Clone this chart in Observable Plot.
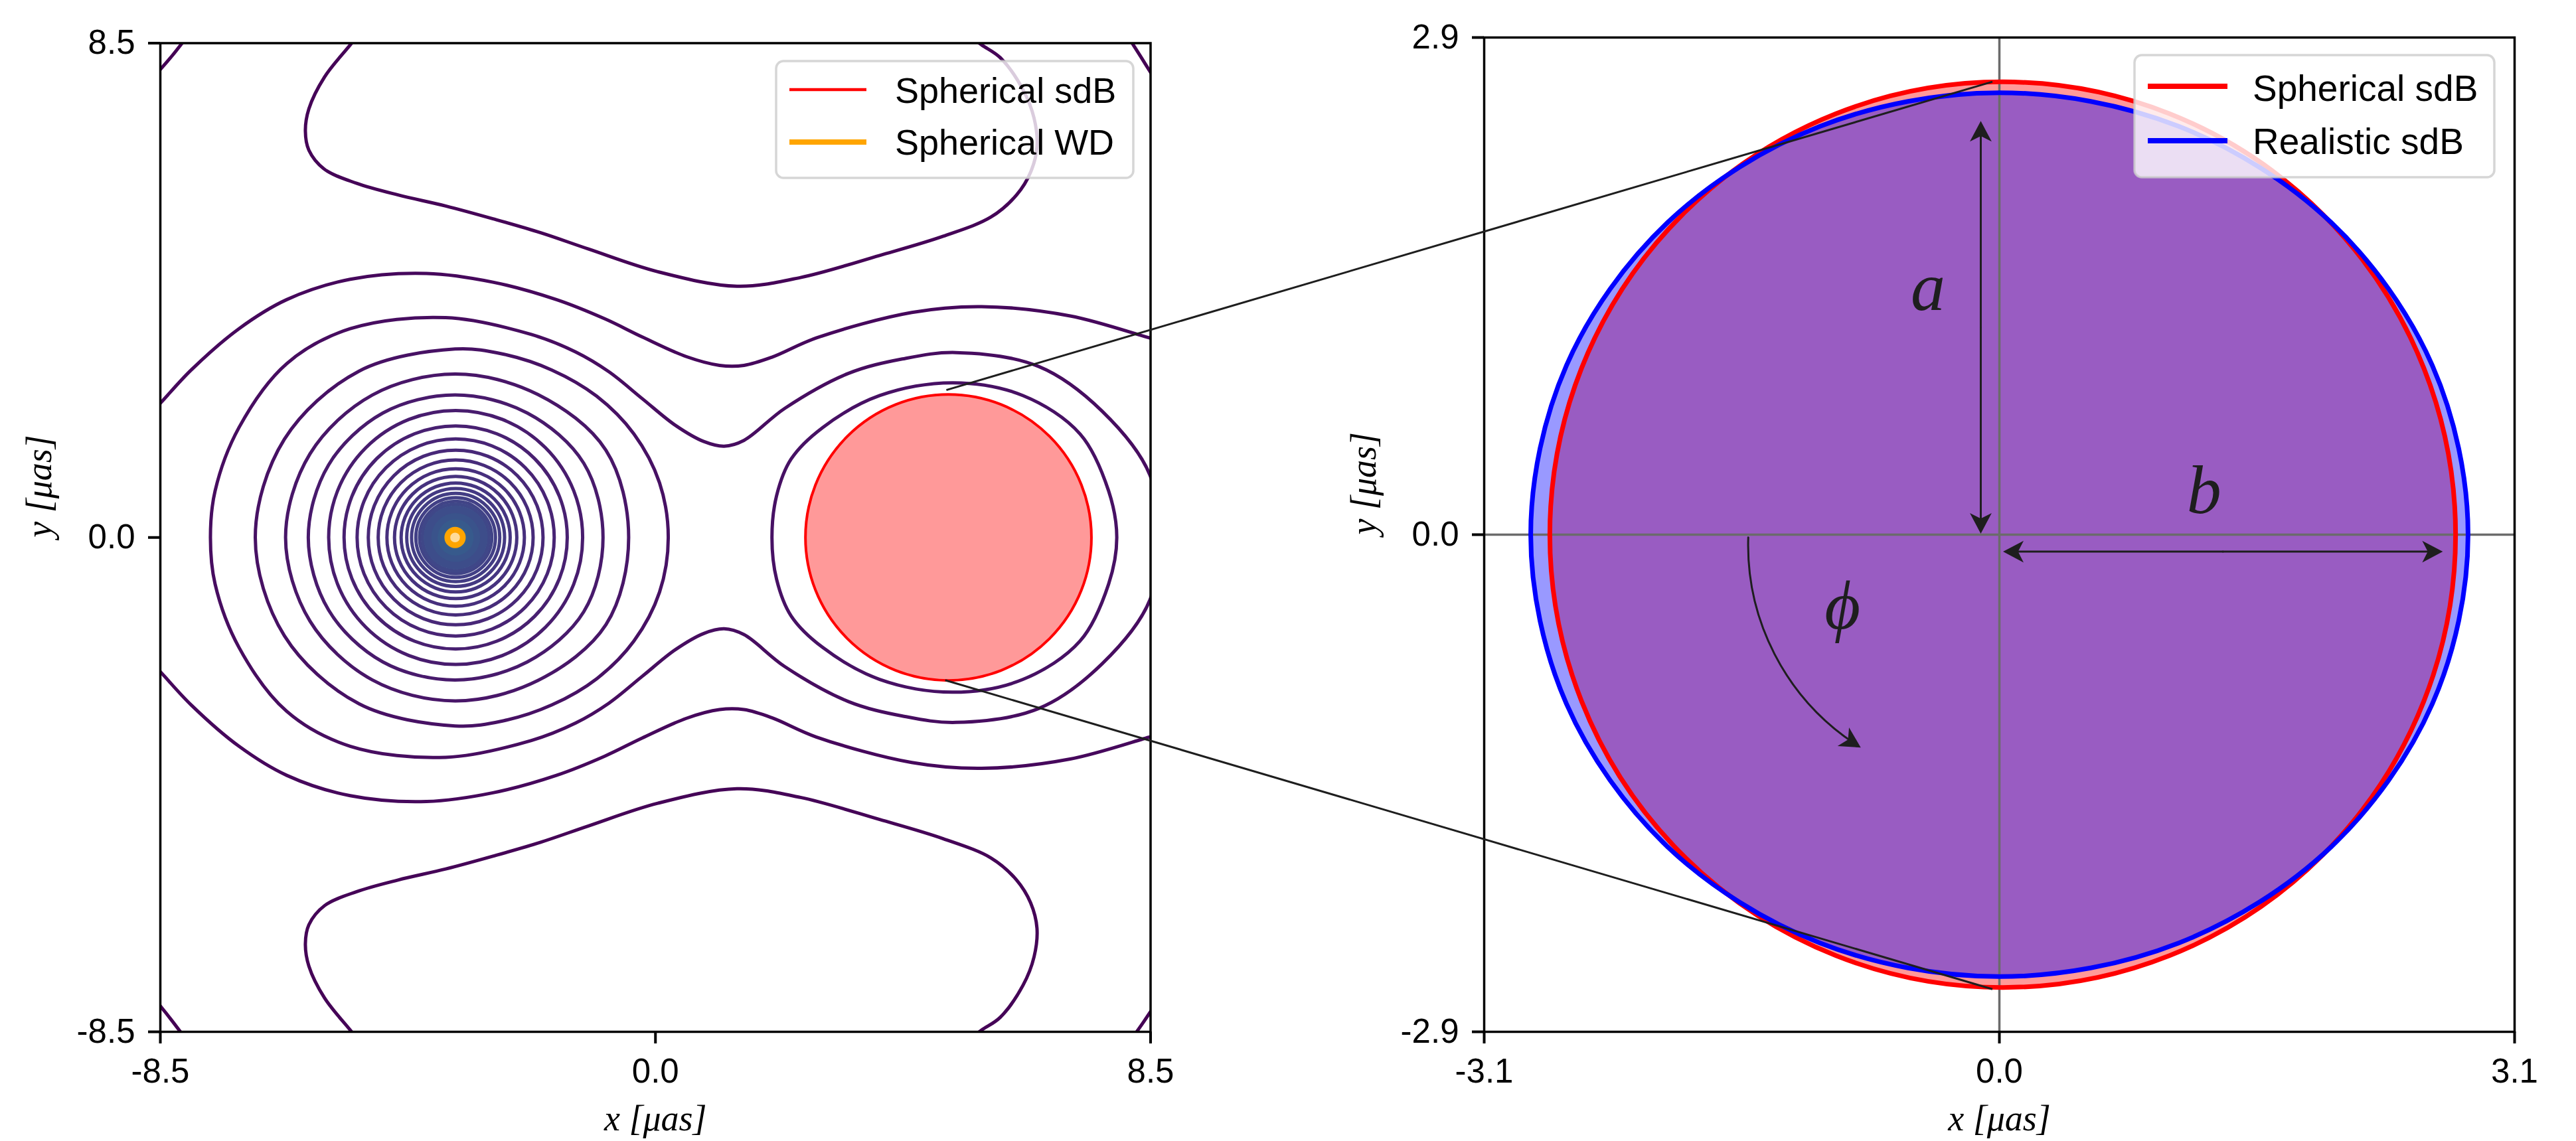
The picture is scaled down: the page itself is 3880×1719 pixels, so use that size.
<!DOCTYPE html>
<html><head><meta charset="utf-8">
<script src="https://cdn.jsdelivr.net/npm/d3@7"></script>
<script src="https://cdn.jsdelivr.net/npm/@observablehq/plot@0.6"></script>
<style>
html,body{margin:0;padding:0;background:#fff;}
#page{position:relative;width:3880px;height:1719px;overflow:hidden;background:#fff;}
#left,#right,#overlay{position:absolute;top:0;}
#left{left:0}
#right{left:1960px}
#overlay{left:0;pointer-events:none}
g[aria-label="x-axis tick"], g[aria-label="y-axis tick"],
g[aria-label="x-axis tick"] path, g[aria-label="y-axis tick"] path,
g[aria-label="x-axis"] .tick line, g[aria-label="y-axis"] .tick line {stroke-width:4px;}
</style></head>
<body><div id="page"><div id="left"></div><div id="right"></div><svg id="overlay" width="3880" height="1719"></svg></div>
<script>
// ================= DATA =================
// ---- left panel: equipotential contours (μas) ----
const leftTicks = [-8.5, 0, 8.5];
const arcTopLeft = [[-8.05, 8.6], [-8.3, 8.28], [-8.56, 7.98]];
const arcTopRight = [[8.12, 8.6], [8.33, 8.27], [8.56, 7.9]];
const arcBottomLeft = [[-8.56, -7.98], [-8.33, -8.27], [-8.08, -8.6]];
const arcBottomRight = [[8.56, -8.06], [8.38, -8.33], [8.19, -8.6]];
const contourBTop = [[-5.08,8.67],[-5.24,8.47],[-5.68,7.92],[-5.95,7.37],[-6.01,6.99],[-5.95,6.66],[-5.68,6.33],[-5.13,6.09],[-4.42,5.89],[-3.60,5.70],[-2.79,5.48],[-1.97,5.24],[-1.15,4.96],[0.04,4.57],[1.40,4.32],[2.49,4.47],[3.85,4.85],[4.94,5.18],[5.76,5.51],[6.20,5.89],[6.44,6.28],[6.55,6.72],[6.50,7.21],[6.31,7.70],[5.92,8.25],[5.60,8.47],[5.40,8.62]];
const contourBBottom = [[-5.08,-8.67],[-5.24,-8.47],[-5.68,-7.92],[-5.95,-7.37],[-6.01,-6.99],[-5.95,-6.66],[-5.68,-6.33],[-5.13,-6.09],[-4.42,-5.89],[-3.60,-5.70],[-2.79,-5.48],[-1.97,-5.24],[-1.15,-4.96],[0.04,-4.57],[1.40,-4.32],[2.49,-4.47],[3.85,-4.85],[4.94,-5.18],[5.76,-5.51],[6.20,-5.89],[6.44,-6.28],[6.55,-6.72],[6.50,-7.21],[6.31,-7.70],[5.92,-8.25],[5.60,-8.47],[5.40,-8.62]];
const contourCTop = [[-8.65,2.15],[-8.48,2.33],[-7.97,2.88],[-7.15,3.59],[-6.33,4.09],[-5.24,4.44],[-3.93,4.54],[-2.79,4.39],[-1.70,4.09],[-0.87,3.76],[-0.23,3.45],[0.53,3.11],[1.10,2.96],[1.52,2.96],[2.0,3.1],[2.76,3.43],[4.40,3.87],[5.60,3.97],[7.12,3.81],[8.49,3.43],[8.65,3.39]];
const contourCBottom = [[-8.65,-2.15],[-8.48,-2.33],[-7.97,-2.88],[-7.15,-3.59],[-6.33,-4.09],[-5.24,-4.44],[-3.93,-4.54],[-2.79,-4.39],[-1.70,-4.09],[-0.87,-3.76],[-0.23,-3.45],[0.53,-3.11],[1.10,-2.96],[1.52,-2.96],[2.0,-3.1],[2.76,-3.43],[4.40,-3.87],[5.60,-3.97],[7.12,-3.81],[8.49,-3.43],[8.65,-3.39]];
const contourD = [[8.62,0],[8.49,1.07],[7.67,2.17],[6.58,2.94],[5.16,3.18],[4.24,3.07],[3.31,2.82],[2.22,2.22],[1.52,1.67],[1.18,1.57],[0.83,1.65],[0.34,1.93],[-0.23,2.39],[-0.80,2.85],[-1.37,3.19],[-2.13,3.49],[-3.60,3.78],[-5.24,3.59],[-6.33,2.99],[-7.15,1.89],[-7.56,0.80],[-7.64,0],[-7.56,-0.80],[-7.15,-1.89],[-6.33,-2.99],[-5.24,-3.59],[-3.60,-3.78],[-2.13,-3.49],[-1.37,-3.19],[-0.80,-2.85],[-0.23,-2.39],[0.34,-1.93],[0.83,-1.65],[1.18,-1.57],[1.52,-1.67],[2.22,-2.22],[3.31,-2.82],[4.24,-3.07],[5.16,-3.18],[6.58,-2.94],[7.67,-2.17],[8.49,-1.07]];
const contourU = [[2.0,0],[2.08,0.72],[2.33,1.35],[2.87,1.89],[3.85,2.44],[5.11,2.66],[6.31,2.44],[7.29,1.78],[7.78,0.80],[7.92,0],[7.78,-0.80],[7.29,-1.78],[6.31,-2.44],[5.11,-2.66],[3.85,-2.44],[2.87,-1.89],[2.33,-1.35],[2.08,-0.72]];
const contourE = [[0.22,0],[0.07,0.94],[-0.37,1.78],[-1.01,2.43],[-1.78,2.88],[-2.60,3.15],[-3.44,3.24],[-5.09,2.86],[-6.37,1.69],[-6.87,0],[-6.37,-1.69],[-5.09,-2.86],[-3.44,-3.24],[-2.60,-3.15],[-1.78,-2.88],[-1.01,-2.43],[-0.37,-1.78],[0.07,-0.94]];
const contourF = [[-0.46,0],[-0.85,1.50],[-2.02,2.46],[-3.44,2.81],[-4.86,2.45],[-5.93,1.44],[-6.35,0],[-5.93,-1.44],[-4.86,-2.45],[-3.44,-2.81],[-2.02,-2.46],[-0.85,-1.50]];
const contourG = [[-0.90,0],[-1.23,1.275],[-2.20,2.14],[-3.44,2.45],[-4.68,2.14],[-5.61,1.25],[-5.96,0],[-5.61,-1.25],[-4.68,-2.14],[-3.44,-2.45],[-2.20,-2.14],[-1.23,-1.275]];
const ringCenter = [-3.43, 0];
const ringRadii = [2.18, 1.916, 1.692, 1.50, 1.33, 1.18, 1.05, 0.936, 0.84, 0.757, 0.684, 0.62, 0.57];
const ringLevels = [7, 8, 9, 10, 11, 12, 13, 14, 15, 16, 17, 18, 19];
const coreRadii = [0.55, 0.42, 0.31, 0.21, 0.13];
const coreLevels = [21, 23, 25, 27, 29];
const sdBLeft = {x: 5.03, y: 0, r: 2.455};
const wdLeft = {x: -3.44, y: 0, r: 0.133};
const legendLeftLabels = ["Spherical sdB", "Spherical WD"];
const legendLeftColors = ["red", "orange"];

// ---- right panel: zoom on the sdB ----
const rightTicksX = [-3.1, 0, 3.1];
const rightTicksY = [-2.9, 0, 2.9];
const sdBSpherical = {x: 0.02, y: 0, r: 2.725};
const sdBRealistic = [[2.82,0],[2.605,0.987],[1.994,1.823],[1.079,2.382],[0,2.578],[-1.079,2.382],[-1.994,1.823],[-2.605,0.987],[-2.82,0],[-2.605,-0.987],[-1.994,-1.823],[-1.079,-2.382],[0,-2.578],[1.079,-2.382],[1.994,-1.823],[2.605,-0.987]];
const arrowA = {x1: -0.112, y1: 0.006, x2: -0.112, y2: 2.413};
const arrowB = {x1: 0.022, y1: -0.099, x2: 2.668, y2: -0.099};
const arrowPhi = {x1: -1.511, y1: -0.016, x2: -0.834, y2: -1.242};
const phiBend = -30;
const annotText = ["a", "b", "\u03D5"];
const annotX = [-0.429, 1.231, -0.944];
const annotY = [1.309, 0.125, -0.548];
const legendRightLabels = ["Spherical sdB", "Realistic sdB"];
const legendRightColors = ["red", "blue"];

// ---- zoom connector lines: left-panel point -> right-panel point ----
const zoomFrom = [[5.0, 2.53], [4.98, -2.46]];
const zoomTo = [[-0.04, 2.64], [-0.04, -2.653]];

// ================= BUILD =================
const fmt = d => d.toFixed(1);
const rows = (pts, id, level) => pts.map(([x, y]) => ({x, y, id, level}));
const openContours = [
  ...rows(arcTopLeft, "arcTL", 0), ...rows(arcTopRight, "arcTR", 0),
  ...rows(arcBottomLeft, "arcBL", 0), ...rows(arcBottomRight, "arcBR", 0),
  ...rows(contourBTop, "Bt", 1), ...rows(contourBBottom, "Bb", 1),
  ...rows(contourCTop, "Ct", 2), ...rows(contourCBottom, "Cb", 2)
];
const closedContours = [
  ...rows(contourD, "D", 3), ...rows(contourU, "U", 4),
  ...rows(contourE, "E", 4), ...rows(contourF, "F", 5), ...rows(contourG, "G", 6)
];
const rings = ringRadii.map((r, i) => ({x: ringCenter[0], y: ringCenter[1], r, level: ringLevels[i]}));
const cores = coreRadii.map((r, i) => ({x: ringCenter[0], y: ringCenter[1], r, level: coreLevels[i]}));

const serif = "'Liberation Serif', 'DejaVu Serif', serif";
const sans = "'Liberation Sans', Arial, sans-serif";
const CW = 5; // contour stroke width

// left plot geometry
const LW = 1960, LH = 1719, LmL = 241, LmR = 227.5, LmT = 64.5, LmB = 165;
const leftPx = (LW - LmL - LmR) / (leftTicks[2] - leftTicks[0]);
const leftPlot = Plot.plot({
  width: LW, height: LH,
  marginLeft: LmL, marginRight: LmR, marginTop: LmT, marginBottom: LmB,
  style: {fontSize: "51px", fontFamily: sans, background: "transparent", overflow: "visible", color: "black"},
  x: {domain: [leftTicks[0], leftTicks[2]], ticks: leftTicks, tickFormat: fmt, tickSize: 18, tickPadding: 22, label: null},
  y: {domain: [leftTicks[0], leftTicks[2]], ticks: leftTicks, tickFormat: fmt, tickSize: 18, tickPadding: 20, label: null},
  r: {type: "linear", domain: [0, 1], range: [0, leftPx]},
  color: {type: "linear", scheme: "viridis", domain: [0, 90]},
  marks: [
    Plot.line(openContours, {x: "x", y: "y", z: "id", stroke: "level", strokeWidth: CW, curve: "catmull-rom", clip: true}),
    Plot.line(closedContours, {x: "x", y: "y", z: "id", stroke: "level", strokeWidth: CW, curve: "catmull-rom-closed", clip: true}),
    Plot.dot(rings, {x: "x", y: "y", r: "r", stroke: "level", strokeWidth: CW, fill: "none"}),
    Plot.dot(cores, {x: "x", y: "y", r: "r", fill: "level", stroke: "none"}),
    Plot.dot([sdBLeft], {x: "x", y: "y", r: "r", fill: "red", fillOpacity: 0.4, stroke: "red", strokeWidth: 4}),
    Plot.dot([wdLeft], {x: "x", y: "y", r: "r", fill: "#ffdb99", stroke: "orange", strokeWidth: 8.7}),
    Plot.frame({stroke: "black", strokeWidth: 3.5}),
    Plot.text(["x [\u03BCas]"], {frameAnchor: "bottom", dy: 148, lineAnchor: "bottom", fontFamily: serif, fontStyle: "italic", fontSize: 54}),
    Plot.text(["y [\u03BCas]"], {frameAnchor: "left", dx: -165, rotate: -90, lineAnchor: "bottom", fontFamily: serif, fontStyle: "italic", fontSize: 54})
  ]
});
document.getElementById("left").appendChild(leftPlot);

// right plot geometry
const RW = 1920, RH = 1719, RmL = 275, RmR = 93, RmT = 56, RmB = 165;
const rightPx = (RW - RmL - RmR) / (rightTicksX[2] - rightTicksX[0]);
const rightPxY = (RH - RmT - RmB) / (rightTicksY[2] - rightTicksY[0]);
const splitDouble = a => {
  const mx = (a.x1 + a.x2) / 2, my = (a.y1 + a.y2) / 2;
  return [{x1: mx, y1: my, x2: a.x1, y2: a.y1}, {x1: mx, y1: my, x2: a.x2, y2: a.y2}];
};
const straightArrows = [...splitDouble(arrowA), ...splitDouble(arrowB)];
// heading (screen bearing, degrees clockwise from up) at the tip of each arrow
const bearing = a => 90 + Math.atan2(-(a.y2 - a.y1) * rightPxY, (a.x2 - a.x1) * rightPx) * 180 / Math.PI;
const heads = straightArrows.map(a => ({x: a.x2, y: a.y2, rot: bearing(a)}));
heads.push({x: arrowPhi.x2, y: arrowPhi.y2, rot: bearing(arrowPhi) + phiBend});
const headShape = {
  draw(context, l) {
    context.moveTo(0, -l);
    context.lineTo(-0.53 * l, 0);
    context.lineTo(0, -0.27 * l);
    context.lineTo(0.53 * l, 0);
    context.closePath();
  }
};
const realisticRows = sdBRealistic.map(([x, y]) => ({x, y}));
const annots = annotText.map((t, i) => ({t, x: annotX[i], y: annotY[i]}));
const ink = "#1e1e1e";
const rightPlot = Plot.plot({
  width: RW, height: RH,
  marginLeft: RmL, marginRight: RmR, marginTop: RmT, marginBottom: RmB,
  style: {fontSize: "51px", fontFamily: sans, background: "transparent", overflow: "visible", color: "black"},
  x: {domain: [rightTicksX[0], rightTicksX[2]], ticks: rightTicksX, tickFormat: fmt, tickSize: 18, tickPadding: 22, label: null},
  y: {domain: [rightTicksY[0], rightTicksY[2]], ticks: rightTicksY, tickFormat: fmt, tickSize: 18, tickPadding: 20, label: null},
  r: {type: "linear", domain: [0, 1], range: [0, rightPx]},
  marks: [
    Plot.dot([sdBSpherical], {x: "x", y: "y", r: "r", fill: "red", fillOpacity: 0.4, stroke: "none"}),
    Plot.line(realisticRows, {x: "x", y: "y", curve: "catmull-rom-closed", fill: "blue", fillOpacity: 0.4, stroke: "none"}),
    Plot.ruleX([0], {stroke: "#6b6b6b", strokeWidth: 3.5}),
    Plot.ruleY([0], {stroke: "#6b6b6b", strokeWidth: 3.5}),
    Plot.dot([sdBSpherical], {x: "x", y: "y", r: "r", fill: "none", stroke: "red", strokeWidth: 7}),
    Plot.line(realisticRows, {x: "x", y: "y", curve: "catmull-rom-closed", fill: "none", stroke: "blue", strokeWidth: 7}),
    Plot.arrow(straightArrows, {x1: "x1", y1: "y1", x2: "x2", y2: "y2", stroke: ink, strokeWidth: 3, headLength: 0, insetEnd: 12}),
    Plot.arrow([arrowPhi], {x1: "x1", y1: "y1", x2: "x2", y2: "y2", bend: phiBend, stroke: ink, strokeWidth: 3, headLength: 0, insetEnd: 12}),
    Plot.vector(heads, {x: "x", y: "y", rotate: "rot", length: 31, anchor: "end", shape: headShape, fill: ink, stroke: "none"}),
    Plot.text(annots, {x: "x", y: "y", text: "t", lineAnchor: "bottom", textAnchor: "middle", fontFamily: serif, fontStyle: "italic", fontSize: 104, fill: ink}),
    Plot.frame({stroke: "black", strokeWidth: 3.5}),
    Plot.text(["x [\u03BCas]"], {frameAnchor: "bottom", dy: 148, lineAnchor: "bottom", fontFamily: serif, fontStyle: "italic", fontSize: 54}),
    Plot.text(["y [\u03BCas]"], {frameAnchor: "left", dx: -164, rotate: -90, lineAnchor: "bottom", fontFamily: serif, fontStyle: "italic", fontSize: 54})
  ]
});
document.getElementById("right").appendChild(rightPlot);

// ================= OVERLAY: connectors + legends =================
const LEFT_OFF = 0, RIGHT_OFF = 1960;
function px(plot, name, v) {
  const s = plot.scale(name);
  if (s && typeof s.apply === "function") return s.apply(v);
  const [d0, d1] = s.domain, [r0, r1] = s.range;
  return r0 + (v - d0) / (d1 - d0) * (r1 - r0);
}
const ov = d3.select("#overlay");
zoomFrom.forEach((p, i) => {
  const q = zoomTo[i];
  ov.append("line")
    .attr("x1", LEFT_OFF + px(leftPlot, "x", p[0])).attr("y1", px(leftPlot, "y", p[1]))
    .attr("x2", RIGHT_OFF + px(rightPlot, "x", q[0])).attr("y2", px(rightPlot, "y", q[1]))
    .attr("stroke", ink).attr("stroke-width", 3);
});
function legend(box, labels, colors, widths, fs) {
  const g = ov.append("g");
  g.append("rect").attr("x", box.x).attr("y", box.y).attr("width", box.w).attr("height", box.h).attr("rx", 11)
    .attr("fill", "white").attr("fill-opacity", 0.8)
    .attr("stroke", "#cccccc").attr("stroke-opacity", 0.8).attr("stroke-width", 3.5);
  labels.forEach((lab, i) => {
    const ly = box.lineY[i];
    g.append("line").attr("x1", box.lx1).attr("x2", box.lx2).attr("y1", ly).attr("y2", ly)
      .attr("stroke", colors[i]).attr("stroke-width", widths[i]);
    g.append("text").attr("x", box.tx).attr("y", box.baseY[i]).text(lab)
      .attr("font-family", sans).attr("font-size", fs).attr("fill", "black");
  });
}
legend({x: 1169, y: 92, w: 538, h: 176, lx1: 1189, lx2: 1305, tx: 1348, lineY: [135, 214], baseY: [155, 233]},
  legendLeftLabels, legendLeftColors, [4.7, 8], 54);
legend({x: 3215, y: 83, w: 542, h: 184, lx1: 3235, lx2: 3355, tx: 3393, lineY: [130, 212], baseY: [152, 232]},
  legendRightLabels, legendRightColors, [8, 8], 55);
</script></body></html>
